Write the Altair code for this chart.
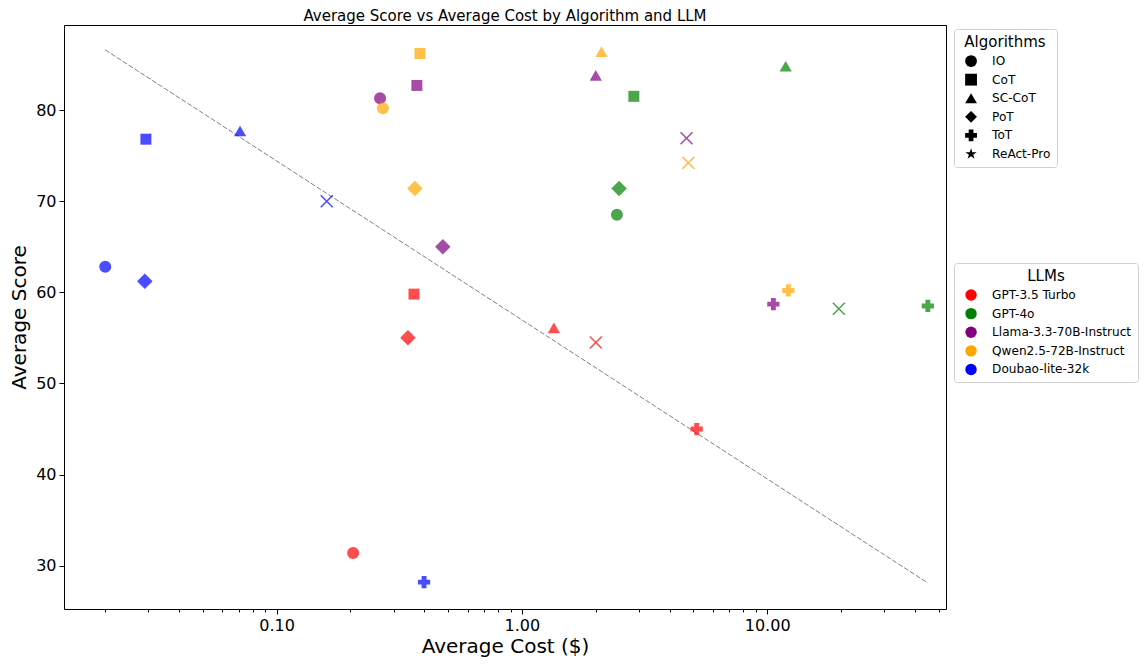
import altair as alt
import pandas as pd

# ---------------- data ----------------
llms = ["GPT-3.5 Turbo", "GPT-4o", "Llama-3.3-70B-Instruct",
        "Qwen2.5-72B-Instruct", "Doubao-lite-32k"]
llm_colors = ["#FF0000", "#008000", "#800080", "#FFA500", "#0000FF"]
algorithms = ["IO", "CoT", "SC-CoT", "PoT", "ToT", "ReAct-Pro"]

# values in the order of `algorithms`
cost_gpt35 = [0.205, 0.363, 1.35, 0.343, 5.16, 2.00]
score_gpt35 = [31.4, 59.8, 56.1, 55.0, 45.0, 54.5]
cost_gpt4o = [2.44, 2.86, 11.9, 2.49, 45.2, 19.6]
score_gpt4o = [68.5, 81.5, 84.8, 71.4, 58.5, 58.2]
cost_llama = [0.264, 0.373, 2.00, 0.476, 10.6, 4.69]
score_llama = [81.3, 82.7, 83.8, 65.0, 58.7, 76.9]
cost_qwen = [0.271, 0.384, 2.11, 0.366, 12.2, 4.77]
score_qwen = [80.2, 86.2, 86.4, 71.4, 60.2, 74.2]
cost_doubao = [0.0200, 0.0293, 0.0709, 0.0290, 0.399, 0.160]
score_doubao = [62.8, 76.8, 77.7, 61.2, 28.2, 70.0]

trend_cost = [0.02, 45.2]
trend_score = [86.6, 28.1]

costs = [cost_gpt35, cost_gpt4o, cost_llama, cost_qwen, cost_doubao]
scores = [score_gpt35, score_gpt4o, score_llama, score_qwen, score_doubao]

rows = []
for llm, cs, ss in zip(llms, costs, scores):
    for alg, c, s in zip(algorithms, cs, ss):
        rows.append({"LLM": llm, "Algorithm": alg, "Cost": c, "Score": s})
df = pd.DataFrame(rows)
trend_df = pd.DataFrame({"Cost": trend_cost, "Score": trend_score})
legend_df = pd.DataFrame({"Algorithm": algorithms, "Cost": [1.0] * 6, "Score": [50.0] * 6})

# ---------------- styles ----------------
FONT = "DejaVu Sans"
XPATH = "M-1,-1L1,1M-1,1L1,-1"
STAR = ("M0,-1L0.2245,-0.309L0.951,-0.309L0.363,0.118L0.588,0.809L0,0.382"
        "L-0.588,0.809L-0.363,0.118L-0.951,-0.309L-0.2245,-0.309Z")
marker_shapes = ["circle", "square", "triangle-up", "diamond", "cross"]
marker_sizes = [144, 121, 150, 240, 150]

xscale = alt.Scale(type="log", domain=[0.01358, 53.6], nice=False)
yscale = alt.Scale(domain=[25.25, 89.33], nice=False, zero=False)

y_axis = alt.Axis(values=[30, 40, 50, 60, 70, 80], title="Average Score",
                  titleFontSize=20, titleFontWeight="normal", labelFontSize=16,
                  tickSize=5, labelPadding=3, titlePadding=6, grid=False,
                  domain=False, tickColor="black", labelColor="black",
                  titleColor="black", labelFont=FONT, titleFont=FONT)

major_x_axis = alt.Axis(values=[0.1, 1, 10], format=".2f", title="Average Cost ($)",
                        orient="bottom", titleFontSize=20, titleFontWeight="normal",
                        labelFontSize=16, tickSize=5, labelPadding=3, titlePadding=3,
                        grid=False, domain=False, tickColor="black",
                        labelColor="black", titleColor="black",
                        labelFont=FONT, titleFont=FONT, labelFlush=False)

minor_vals = [0.02, 0.03, 0.04, 0.05, 0.06, 0.07, 0.08, 0.09,
              0.2, 0.3, 0.4, 0.5, 0.6, 0.7, 0.8, 0.9,
              2, 3, 4, 5, 6, 7, 8, 9, 20, 30, 40, 50]
minor_x_axis = alt.Axis(values=minor_vals, labels=False, title=None, orient="bottom",
                        tickSize=3, grid=False, domain=False, tickColor="black")

common_legend = dict(
    orient="none", legendX=890, labelFontSize=12.1, titleFontSize=15,
    titleFontWeight="normal", titleAnchor="middle", titlePadding=5,
    rowPadding=5.6, labelOffset=15, padding=6, symbolOffset=5,
    strokeColor="#d0d0d0", cornerRadius=3, fillColor="white",
    labelColor="black", titleColor="black", labelFont=FONT, titleFont=FONT,
)

color_legend = alt.Legend(
    title="LLMs", legendY=238, symbolType="circle", symbolOpacity=1,
    symbolSize=130, symbolStrokeWidth=0, **common_legend)

color_scale = alt.Scale(domain=llms, range=llm_colors)

# ---------------- layers ----------------
line = alt.Chart(trend_df).mark_line(
    color="gray", strokeDash=[5, 2], strokeWidth=1
).encode(
    x=alt.X("Cost:Q", scale=xscale, axis=minor_x_axis),
    y=alt.Y("Score:Q", scale=yscale, axis=y_axis),
)

point_layers = []
for i, (alg, shp, sz) in enumerate(zip(algorithms[:5], marker_shapes, marker_sizes)):
    layer = alt.Chart(df).transform_filter(
        alt.datum.Algorithm == alg
    ).mark_point(filled=True, opacity=0.7, shape=shp, size=sz).encode(
        x=alt.X("Cost:Q", scale=xscale, axis=major_x_axis if i == 0 else None),
        y=alt.Y("Score:Q", scale=yscale, axis=y_axis),
        color=alt.Color("LLM:N", scale=color_scale,
                        legend=color_legend if i == 0 else None),
    )
    point_layers.append(layer)

xs = alt.Chart(df).transform_filter(
    alt.datum.Algorithm == "ReAct-Pro"
).mark_point(shape=XPATH, filled=False, opacity=0.7, strokeWidth=1.5, size=144).encode(
    x=alt.X("Cost:Q", scale=xscale, axis=None),
    y=alt.Y("Score:Q", scale=yscale, axis=y_axis),
    color=alt.Color("LLM:N", scale=color_scale, legend=None),
)

legend_layer = alt.Chart(legend_df).mark_point(
    filled=True, opacity=0, color="black"
).encode(
    x=alt.X("Cost:Q", scale=xscale, axis=None),
    y=alt.Y("Score:Q", scale=yscale, axis=y_axis),
    shape=alt.Shape("Algorithm:N",
                    scale=alt.Scale(domain=algorithms,
                                    range=marker_shapes + [STAR]),
                    legend=alt.Legend(
                        title="Algorithms", legendY=4, symbolOpacity=1,
                        symbolSize=140, symbolFillColor="black",
                        symbolStrokeColor="black", symbolStrokeWidth=0,
                        **common_legend)),
)

chart = alt.layer(line, *point_layers, xs, legend_layer).resolve_scale(
    shape="independent"
).resolve_axis(
    x="independent"
).properties(
    width=882, height=584,
    title=alt.TitleParams("Average Score vs Average Cost by Algorithm and LLM",
                          fontSize=15, fontWeight="normal", font=FONT,
                          color="black", anchor="middle", offset=1),
    autosize=alt.AutoSizeParams(type="none"),
    padding={"left": 56, "top": 17, "right": 194, "bottom": 48},
).configure(
    font=FONT
).configure_view(
    stroke="black", strokeWidth=1
)

chart.save("out.html", embed_options={"renderer": "svg", "actions": False})
